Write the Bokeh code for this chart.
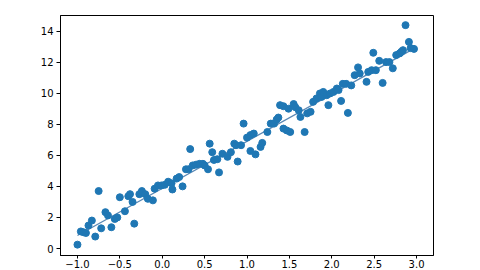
from bokeh.plotting import figure
from bokeh.embed import file_html
from bokeh.resources import INLINE
from bokeh.models import Range1d, FixedTicker

x_vals = [
    -1.00, -0.96, -0.93, -0.90, -0.87, -0.83, -0.79, -0.75, -0.72, -0.67,
    -0.64, -0.60, -0.56, -0.53, -0.50, -0.44, -0.40, -0.38, -0.35, -0.33,
    -0.27, -0.24, -0.20, -0.17, -0.11, -0.09, -0.05, -0.01,
    0.03, 0.07, 0.11, 0.12, 0.17, 0.20, 0.24, 0.28, 0.31, 0.33,
    0.36, 0.40, 0.44, 0.48, 0.50, 0.54, 0.56, 0.59, 0.61, 0.65,
    0.67, 0.71, 0.77, 0.81, 0.85, 0.87, 0.89, 0.93,
    0.96, 1.00, 1.04, 1.04, 1.08, 1.10, 1.16, 1.18, 1.24, 1.28,
    1.32, 1.35, 1.37, 1.39, 1.43, 1.43, 1.47, 1.49, 1.51, 1.55,
    1.57, 1.61, 1.63, 1.68, 1.71, 1.75, 1.78, 1.82, 1.86, 1.88,
    1.90, 1.94, 1.96, 1.98,
    2.02, 2.06, 2.08, 2.11, 2.13, 2.17, 2.19, 2.23, 2.27, 2.31,
    2.33, 2.41, 2.43, 2.47, 2.49, 2.52, 2.56, 2.60, 2.64, 2.68,
    2.72, 2.76, 2.80, 2.82, 2.84, 2.87, 2.91, 2.93, 2.97,
]
y_vals = [
    0.25, 1.10, 1.05, 1.00, 1.48, 1.80, 0.77, 3.70, 1.30, 2.34,
    2.13, 1.37, 1.90, 2.00, 3.30, 2.40, 3.37, 3.50, 3.00, 1.60,
    3.50, 3.70, 3.50, 3.20, 3.10, 3.85, 4.06, 4.06,
    4.10, 4.30, 4.20, 3.80, 4.50, 4.60, 4.00, 5.10, 5.10, 6.40,
    5.35, 5.40, 5.45, 5.45, 5.35, 5.10, 6.75, 6.20, 5.70, 5.75,
    4.90, 6.10, 5.90, 6.20, 6.75, 6.65, 5.60, 6.65,
    8.04, 7.14, 7.30, 6.28, 7.40, 6.06, 6.54, 6.80, 7.50, 8.04,
    8.04, 8.30, 8.43, 9.23, 9.16, 7.72, 7.60, 9.00, 7.50, 9.30,
    9.10, 8.90, 8.47, 7.50, 8.70, 8.80, 9.44, 9.66, 9.98, 9.76,
    10.08, 9.87, 9.23, 9.98,
    10.08, 10.30, 10.20, 9.50, 10.60, 10.60, 8.73, 10.50, 11.16, 11.66,
    11.27, 10.73, 11.37, 11.48, 12.60, 11.48, 12.08, 10.66, 12.00, 12.00,
    11.60, 12.45, 12.56, 12.66, 12.77, 14.38, 13.30, 12.90, 12.85,
]
fit_x = [-1.0, 3.0]
fit_slope = 3.03
fit_intercept = 3.87

x_ticks = [-1.0, -0.5, 0.0, 0.5, 1.0, 1.5, 2.0, 2.5, 3.0]
x_tick_labels = ["\u22121.0", "\u22120.5", "0.0", "0.5", "1.0", "1.5", "2.0", "2.5", "3.0"]
y_ticks = [0, 2, 4, 6, 8, 10, 12, 14]
y_tick_labels = ["0", "2", "4", "6", "8", "10", "12", "14"]

fit_y = [fit_intercept + fit_slope * v for v in fit_x]

p = figure(width=480, height=270, output_backend="svg", toolbar_location=None,
           x_range=Range1d(-1.2, 3.2), y_range=Range1d(-0.45, 15.0),
           min_border_left=60, min_border_right=47, min_border_top=15,
           min_border_bottom=5)
p.background_fill_color = "white"
p.border_fill_color = "white"
p.outline_line_color = "black"
p.outline_line_width = 1
p.xgrid.visible = False
p.ygrid.visible = False

p.line(fit_x, fit_y, line_color="#5a88b4", line_width=1.3)
p.scatter(x_vals, y_vals, size=7, fill_color="#1f77b4", line_color="#1f77b4")

for ax in (p.xaxis[0], p.yaxis[0]):
    ax.axis_line_color = "black"
    ax.major_tick_line_color = "black"
    ax.major_tick_in = 0
    ax.major_tick_out = 4
    ax.minor_tick_line_color = None
    ax.major_label_text_font = "DejaVu Sans"
    ax.major_label_text_font_size = "10px"
    ax.major_label_text_color = "black"
    ax.major_label_standoff = 3

p.xaxis[0].major_tick_out = 3
p.xaxis[0].major_label_standoff = 1

p.xaxis[0].ticker = FixedTicker(ticks=x_ticks)
p.xaxis[0].major_label_overrides = {t: l for t, l in zip(x_ticks, x_tick_labels)}
p.yaxis[0].ticker = FixedTicker(ticks=y_ticks)
p.yaxis[0].major_label_overrides = {t: l for t, l in zip(y_ticks, y_tick_labels)}

open("out.html", "w").write(file_html(p, INLINE))
